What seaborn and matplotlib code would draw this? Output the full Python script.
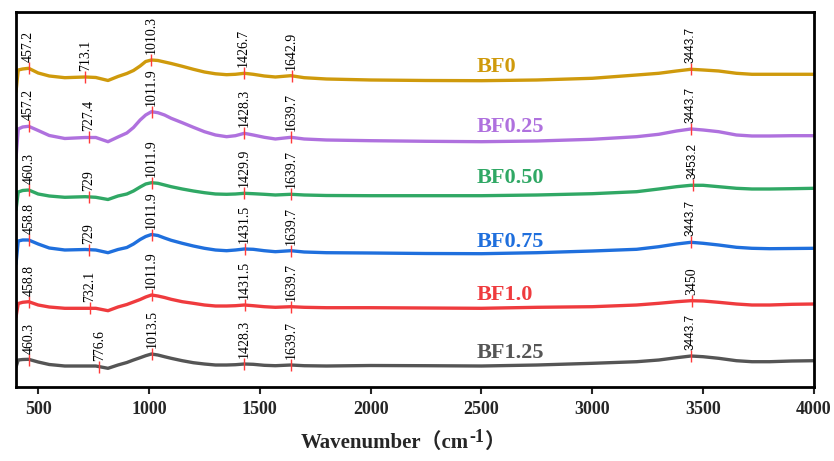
import numpy as np
import pandas as pd
import matplotlib
matplotlib.use("Agg")
import matplotlib.pyplot as plt
import seaborn as sns

# wavenumber grid (cm-1) shared by all spectra
wavenumber = [400, 410, 430, 457, 500, 550, 620, 713, 760, 815, 860, 900, 930, 960, 985,
              1011, 1040, 1070, 1100, 1150, 1200, 1250, 1300, 1350, 1390, 1430, 1470, 1520,
              1570, 1640, 1700, 1800, 2000, 2250, 2500, 2750, 3000, 3200, 3300, 3380, 3445,
              3500, 3570, 3650, 3720, 3800, 3900, 4000]

# stacked transmittance (a.u., offset)
bf0 = [308.3, 330, 331, 331.7, 327, 324, 322.3, 323, 322.5, 319.5, 323.5, 326.5, 329.5, 334,
       338.5, 340, 339.5, 338, 336.5, 333.7, 330.7, 328, 326.2, 325.3, 325.7, 326.7, 325.7, 324,
       323, 324.3, 322.3, 321, 320, 319.5, 319.3, 320, 321.7, 325, 326.7, 329, 330.7,
       330, 329, 326.7, 325.7, 325.7, 325.7, 325.7]
bf025 = [242, 271, 273, 273.7, 269.5, 264.5, 261.5, 262.5, 262.5, 258.3, 263, 267, 272.5, 280,
         285, 288.3, 287.3, 285, 281.7, 277.3, 272.7, 268.3, 265, 263.3, 264.3, 266.7, 265, 262.7,
         261, 262.7, 261, 260, 259.3, 258.7, 258.3, 259, 260.7, 263.3, 265.7, 269, 271,
         270, 268.3, 265, 264, 264, 264.3, 264.3]
bf050 = [190, 208, 209.5, 210, 206, 204, 202.7, 203.3, 202.7, 200.5, 204, 206, 209, 213,
         216, 217.3, 216.7, 215, 213.3, 211, 209, 207.3, 206, 205.7, 206, 206.7, 206.3, 205.7,
         205, 205.7, 205, 204.5, 204.3, 204.3, 204.3, 205, 206.3, 208.3, 211, 213.3, 214.7,
         214.7, 213.3, 211.7, 211, 211, 211.3, 211.7]
bf075 = [136, 159, 160, 160, 156, 152, 150, 150.5, 150, 147.3, 150.5, 152.5, 156, 160.5,
         163.5, 165.5, 164.5, 162, 159.7, 156.7, 154, 151.7, 150, 149.3, 150, 151, 150.7, 149.3,
         148.3, 149.3, 148, 147.3, 147, 146.5, 146.3, 147.3, 149, 150.7, 153.3, 156, 157.7,
         156.7, 155, 152.7, 151.7, 151.3, 151.5, 151.7]
bf10 = [83, 96.5, 97.7, 98.3, 95, 93, 91.7, 91.7, 91.7, 89.3, 93, 95.5, 98, 100.5,
        103, 105, 104, 102.5, 100.7, 98.3, 96.7, 95, 94, 94, 94.3, 95, 94.3, 93.3,
        92.7, 93.3, 92.7, 92.3, 92.3, 92, 91.7, 92.7, 93.3, 95, 96.7, 98.3, 99.3,
        99, 97.7, 96, 95, 95, 95.7, 96]
bf125 = [33, 40, 40.5, 40.7, 38, 35.5, 34, 34, 34, 31.7, 35, 37.5, 40, 42.3,
         44.3, 46, 45, 43.3, 41.7, 39.3, 37.3, 36, 35, 35, 35.3, 36, 35.7, 34.7,
         34.3, 35, 34.3, 34, 34.5, 34.3, 34, 35, 36.7, 38.3, 40, 42.3, 44,
         43.3, 41.7, 39.3, 38.3, 38.3, 39, 39.3]

samples = ["BF0", "BF0.25", "BF0.50", "BF0.75", "BF1.0", "BF1.25"]
colors = ["#CF9A0C", "#AF71DE", "#30A865", "#1F6FDD", "#EF3B3E", "#555555"]

# marked peaks
peaks_bf0 = ["457.2", "713.1", "1010.3", "1426.7", "1642.9", "3443.7"]
peaks_bf025 = ["457.2", "727.4", "1011.9", "1428.3", "1639.7", "3443.7"]
peaks_bf050 = ["460.3", "729", "1011.9", "1429.9", "1639.7", "3453.2"]
peaks_bf075 = ["458.8", "729", "1011.9", "1431.5", "1639.7", "3443.7"]
peaks_bf10 = ["458.8", "732.1", "1011.9", "1431.5", "1639.7", "3450"]
peaks_bf125 = ["460.3", "776.6", "1013.5", "1428.3", "1639.7", "3443.7"]

series = [bf0, bf025, bf050, bf075, bf10, bf125]
peak_lists = [peaks_bf0, peaks_bf025, peaks_bf050, peaks_bf075, peaks_bf10, peaks_bf125]
name_y = [328, 268.3, 216.7, 153.3, 100, 41.7]

df = pd.concat([pd.DataFrame({"wn": wavenumber, "T": s, "sample": n})
                for s, n in zip(series, samples)], ignore_index=True)

sns.set_theme(style="ticks")
plt.rcParams["font.family"] = ["Liberation Serif", "DejaVu Serif"]

fig = plt.figure(figsize=(8.34, 4.61), dpi=100)
ax = fig.add_axes([0.0192, 0.1605, 0.9568, 0.8135])

sns.lineplot(data=df, x="wn", y="T", hue="sample", hue_order=samples, palette=colors,
             linewidth=2.4, legend=False, estimator=None, sort=False, ax=ax)

ax.set_xlim(400, 4000)
ax.set_ylim(13, 388)
ax.set_yticks([])
ax.set_xticks(range(500, 4001, 500))
ax.set_xlabel("")
ax.set_ylabel("")
ax.tick_params(axis="x", direction="out", length=5, width=1.5, pad=5, labelsize=13)
for lab in ax.get_xticklabels():
    lab.set_fontweight("bold")
for sp in ax.spines.values():
    sp.set_linewidth(2)
    sp.set_color("black")

for vals, labs, name, c, ny in zip(series, peak_lists, samples, colors, name_y):
    pos = np.array([float(s) for s in labs])
    ys = np.interp(pos, wavenumber, vals)
    ax.vlines(pos, ys - 6, ys + 6, color="#FF3B3B", lw=1)
    for x, y, s in zip(pos, ys, labs):
        if x > 3000 and s != "3450":
            ax.text(x, y + 6, s, rotation=90, ha="center", va="bottom", fontsize=8.5,
                    family="Liberation Sans", color="black")
        else:
            ax.text(x, y + 6, s, rotation=90, ha="center", va="bottom", fontsize=10,
                    color="black")
    ax.text(2480, ny, name, color=c, fontsize=16, fontweight="bold", ha="left", va="baseline")

# x label with full-width brackets and superscript
lab_font = ["Liberation Serif", "Noto Sans CJK SC"]
t1 = fig.text(0.361, 0.018, "Wavenumber（cm", fontsize=15, fontweight="bold",
              family=lab_font, ha="left", va="bottom")
sup = ax.annotate("-1", xy=(1, 1.2), xycoords=t1, fontsize=13, fontweight="bold",
                  family=lab_font, ha="left", va="top", annotation_clip=False)
ax.annotate("）", xy=(1, 0), xycoords=(sup, t1), fontsize=15, fontweight="bold",
            family=lab_font, ha="left", va="bottom", annotation_clip=False)

fig.savefig("out.png", dpi=100)
